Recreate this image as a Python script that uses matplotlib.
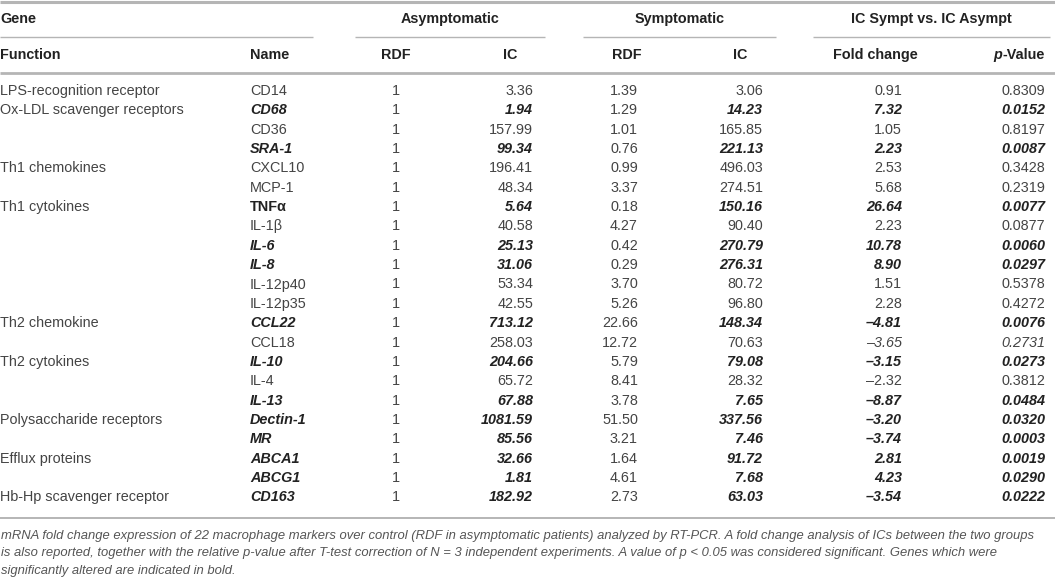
import matplotlib
matplotlib.use("Agg")
import matplotlib.pyplot as plt

# ---- table data ----
functions = ["LPS-recognition receptor", "Ox-LDL scavenger receptors", "", "",
             "Th1 chemokines", "", "Th1 cytokines", "", "", "", "", "",
             "Th2 chemokine", "", "Th2 cytokines", "", "",
             "Polysaccharide receptors", "", "Efflux proteins", "",
             "Hb-Hp scavenger receptor"]
names = ["CD14", "CD68", "CD36", "SRA-1", "CXCL10", "MCP-1", "TNFα", "IL-1β",
         "IL-6", "IL-8", "IL-12p40", "IL-12p35", "CCL22", "CCL18", "IL-10",
         "IL-4", "IL-13", "Dectin-1", "MR", "ABCA1", "ABCG1", "CD163"]
asym_rdf = [1] * 22
asym_ic = [3.36, 1.94, 157.99, 99.34, 196.41, 48.34, 5.64, 40.58, 25.13, 31.06,
           53.34, 42.55, 713.12, 258.03, 204.66, 65.72, 67.88, 1081.59, 85.56,
           32.66, 1.81, 182.92]
sym_rdf = [1.39, 1.29, 1.01, 0.76, 0.99, 3.37, 0.18, 4.27, 0.42, 0.29, 3.70,
           5.26, 22.66, 12.72, 5.79, 8.41, 3.78, 51.50, 3.21, 1.64, 4.61, 2.73]
sym_ic = [3.06, 14.23, 165.85, 221.13, 496.03, 274.51, 150.16, 90.40, 270.79,
          276.31, 80.72, 96.80, 148.34, 70.63, 79.08, 28.32, 7.65, 337.56, 7.46,
          91.72, 7.68, 63.03]
fold = [0.91, 7.32, 1.05, 2.23, 2.53, 5.68, 26.64, 2.23, 10.78, 8.90, 1.51,
        2.28, -4.81, -3.65, -3.15, -2.32, -8.87, -3.20, -3.74, 2.81, 4.23, -3.54]
pvals = [0.8309, 0.0152, 0.8197, 0.0087, 0.3428, 0.2319, 0.0077, 0.0877,
         0.0060, 0.0297, 0.5378, 0.4272, 0.0076, 0.2731, 0.0273, 0.3812, 0.0484,
         0.0320, 0.0003, 0.0019, 0.0290, 0.0222]
significant = [False, True, False, True, False, False, True, False, True, True,
               False, False, True, False, True, False, True, True, True, True,
               True, True]
italic_only = ["CCL18"]

caption = ("mRNA fold change expression of 22 macrophage markers over control (RDF in asymptomatic patients) "
           "analyzed by RT-PCR. A fold change analysis of ICs between the two groups\n"
           "is also reported, together with the relative p-value after T-test correction of N = 3 "
           "independent experiments. A value of p < 0.05 was considered significant. Genes which were\n"
           "significantly altered are indicated in bold.")

W, H = 1055, 586
fig = plt.figure(figsize=(W / 100, H / 100), dpi=100)
ax = fig.add_axes([0, 0, 1, 1])
ax.set_xlim(0, W)
ax.set_ylim(H, 0)
ax.axis("off")

FONT = "Liberation Sans"
FS = 10.4
TXT = "#444444"
HDR = "#222222"
RULE = "#b5b5b5"

def fmt(v, dec=2):
    return f"{v:.{dec}f}".replace("-", "–")

# rules
ax.plot([0, W], [2, 2], color=RULE, lw=2.2, solid_capstyle="butt")
for x0, x1 in [(0, 313), (355, 545), (583, 776), (813, 1050)]:
    ax.plot([x0, x1], [37, 37], color=RULE, lw=1.0, solid_capstyle="butt")
ax.plot([0, W], [73, 73], color=RULE, lw=2.0, solid_capstyle="butt")
ax.plot([0, W], [518, 518], color=RULE, lw=1.4, solid_capstyle="butt")

# headers
hkw = dict(fontfamily=FONT, fontsize=FS, fontweight="bold", color=HDR, va="center")
ax.text(0, 19, "Gene", ha="left", **hkw)
ax.text(450, 19, "Asymptomatic", ha="center", **hkw)
ax.text(680, 19, "Symptomatic", ha="center", **hkw)
ax.text(931, 19, "IC Sympt vs. IC Asympt", ha="center", **hkw)
ax.text(0, 55, "Function", ha="left", **hkw)
ax.text(250, 55, "Name", ha="left", **hkw)
ax.text(396, 55, "RDF", ha="center", **hkw)
ax.text(510, 55, "IC", ha="center", **hkw)
ax.text(627, 55, "RDF", ha="center", **hkw)
ax.text(740, 55, "IC", ha="center", **hkw)
ax.text(875, 55, "Fold change", ha="center", **hkw)
ax.text(1045, 55, "-Value", ha="right", **hkw)
ax.text(1045 - 43, 55, "p", ha="right", fontstyle="italic", **hkw)

# body
y0, dy = 91, 19.35
for i in range(len(names)):
    y = y0 + i * dy
    sig = significant[i]
    it = names[i] in italic_only
    base = dict(fontfamily=FONT, fontsize=FS, va="center", color=TXT)
    bold = dict(fontfamily=FONT, fontsize=FS, va="center", color=HDR,
                fontweight="bold", fontstyle="italic")
    cell = bold if sig else dict(base, fontstyle="italic") if it else base
    ax.text(0, y, functions[i], ha="left", **base)
    if sig:
        nm = dict(bold, fontstyle="normal") if names[i] == "TNFα" else bold
    else:
        nm = base
    ax.text(250, y, names[i], ha="left", **nm)
    ax.text(396, y, str(asym_rdf[i]), ha="center", **base)
    ax.text(533, y, fmt(asym_ic[i]), ha="right", **(bold if sig else base))
    ax.text(638, y, fmt(sym_rdf[i]), ha="right", **base)
    ax.text(763, y, fmt(sym_ic[i]), ha="right", **(bold if sig else base))
    ax.text(902, y, fmt(fold[i]), ha="right", **cell)
    ax.text(1045, y, fmt(pvals[i], 4), ha="right", **cell)

ax.text(1, 530, caption, ha="left", va="top", fontfamily=FONT, fontsize=9.4,
        fontstyle="italic", color="#555555", linespacing=1.6)

fig.savefig("out.png", dpi=100)
